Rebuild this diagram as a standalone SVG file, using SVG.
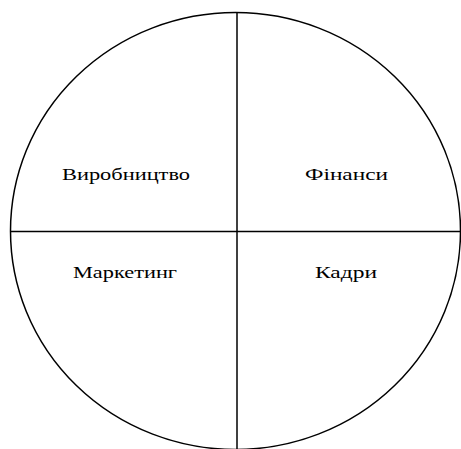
<svg xmlns="http://www.w3.org/2000/svg" width="461" height="449" viewBox="0 0 461 449">
<style>
.ln{stroke:#000;stroke-width:1.5;fill:none}
.t{font-family:"Liberation Serif","Times New Roman",serif;font-size:17px;fill:#000}
</style>
<rect width="461" height="449" fill="#fff"/>
<g id="connectors">
<ellipse class="ln" cx="235.5" cy="231" rx="225" ry="218.5"/>
<line class="ln" x1="237" y1="12" x2="237" y2="449"/>
<line class="ln" x1="10" y1="231.5" x2="461" y2="231.5"/>
</g>
<g id="vyrobnytstvo"><text class="t" x="62" y="180" textLength="128" lengthAdjust="spacingAndGlyphs">Виробництво</text></g>
<g id="finansy"><text class="t" x="305" y="180" textLength="83" lengthAdjust="spacingAndGlyphs">Фінанси</text></g>
<g id="marketynh"><text class="t" x="73" y="278" textLength="104" lengthAdjust="spacingAndGlyphs">Маркетинг</text></g>
<g id="kadry"><text class="t" x="315" y="278" textLength="62" lengthAdjust="spacingAndGlyphs">Кадри</text></g>
</svg>
